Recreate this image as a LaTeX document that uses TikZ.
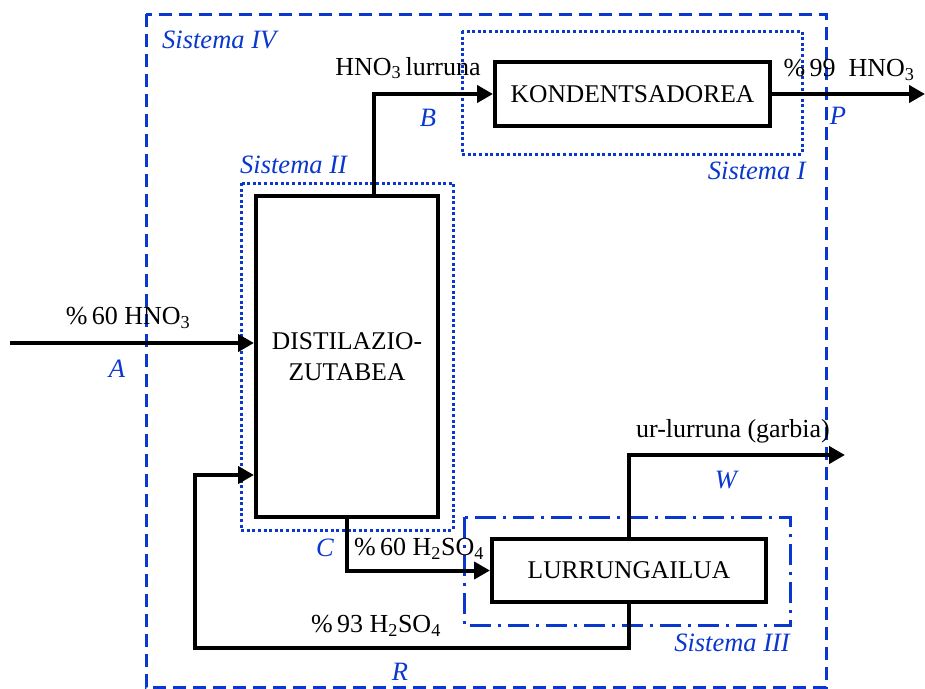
\documentclass[tikz,border=0pt]{standalone}
\usepackage{fontspec}
\setmainfont{Liberation Serif}
\usetikzlibrary{positioning,arrows.meta,calc}

\definecolor{sysblue}{RGB}{10,55,205}

\begin{document}
\begin{tikzpicture}[
    x=1pt, y=-1pt,
    >=LaTeX,
    unit/.style={
        rectangle,
        draw=black,
        line width=4pt,
        fill=white,
        align=center,
        font=\fontsize{25.5}{31}\selectfont
    },
    flow/.style={-{Triangle[length=16pt, width=17pt]}, line width=4pt, black},
    flabel/.style={font=\fontsize{26}{30}\selectfont, inner sep=0pt},
    slabel/.style={font=\fontsize{26.5}{30}\selectfont\itshape, text=sysblue, inner sep=0pt},
    sysIV/.style={draw=sysblue, line width=3pt, dash pattern=on 13pt off 7pt},
    sysdot/.style={draw=sysblue, line width=3pt, dash pattern=on 3pt off 2.6pt},
    sysdashdot/.style={draw=sysblue, line width=3pt, dash pattern=on 21pt off 7pt on 3pt off 7pt}
]

\useasboundingbox (0,0) rectangle (925,688);

% --- Mugak (sistemak) ---
\draw[sysIV] (146,14) rectangle (826,687);
\draw[sysdot] (462,31) rectangle (802,154);
\draw[sysdot] (241,183) rectangle (453,530);
\draw[sysdashdot] (464,517) rectangle (790,625);

% --- Unitateak ---
\node[unit, minimum width=275pt, minimum height=64pt] (kond) at (632.5,94) {KONDENTSADOREA};
\node[unit, minimum width=182pt, minimum height=321pt] (dist) at (347,356.5) {DISTILAZIO-\\ZUTABEA};
\node[unit, minimum width=274pt, minimum height=63pt] (lurr) at (629,570.5) {LURRUNGAILUA};

% --- Sarrera eta irteera puntuak ---
\coordinate (fin)  at (10,343);
\coordinate (pout) at (925,94);
\coordinate (wout) at (845,455);
\coordinate (rc)   at (195,648);

% --- Korronteak ---
\draw[flow] (fin) -- (fin -| dist.west);
\draw[flow] ([xshift=27pt]dist.north) |- (kond.west);
\draw[flow] (kond.east) -- (pout);
\draw[flow] (dist.south) |- (lurr.west);
\draw[flow] (lurr.north) |- (wout);
\draw[flow] (lurr.south) |- (rc) |- ([yshift=-118.5pt]dist.west);

% --- Korronteen izenak ---
\node[flabel] (tB) at (408,68) {HNO\textsubscript{3}\,lurruna};
\node[flabel] (tP) at (849,70) {\%\,99~ HNO\textsubscript{3}};
\node[flabel] (tA) at (128,318) {\%\,60 HNO\textsubscript{3}};
\node[flabel, anchor=west] (tC) at (354,549) {\%\,60 H\textsubscript{2}SO\textsubscript{4}};
\node[flabel] (tR) at (376,626) {\%\,93 H\textsubscript{2}SO\textsubscript{4}};
\node[flabel] (tW) at (733,431) {ur-lurruna (garbia)};

% --- Letrak ---
\node[slabel] (lB) at (428,118) {B};
\node[slabel] (lP) at (838,116) {P};
\node[slabel] (lA) at (117,369) {A};
\node[slabel] (lC) at (325,548) {C};
\node[slabel] (lR) at (400,672) {R};
\node[slabel] (lW) at (726,480) {W};

% --- Sistemen izenak ---
\node[slabel, anchor=west] (s4) at (162,40) {Sistema IV};
\node[slabel, anchor=west] (s2) at (240,165) {Sistema II};
\node[slabel, anchor=east] (s1) at (806,171) {Sistema I};
\node[slabel, anchor=east] (s3) at (790,643) {Sistema III};

\end{tikzpicture}
\end{document}
